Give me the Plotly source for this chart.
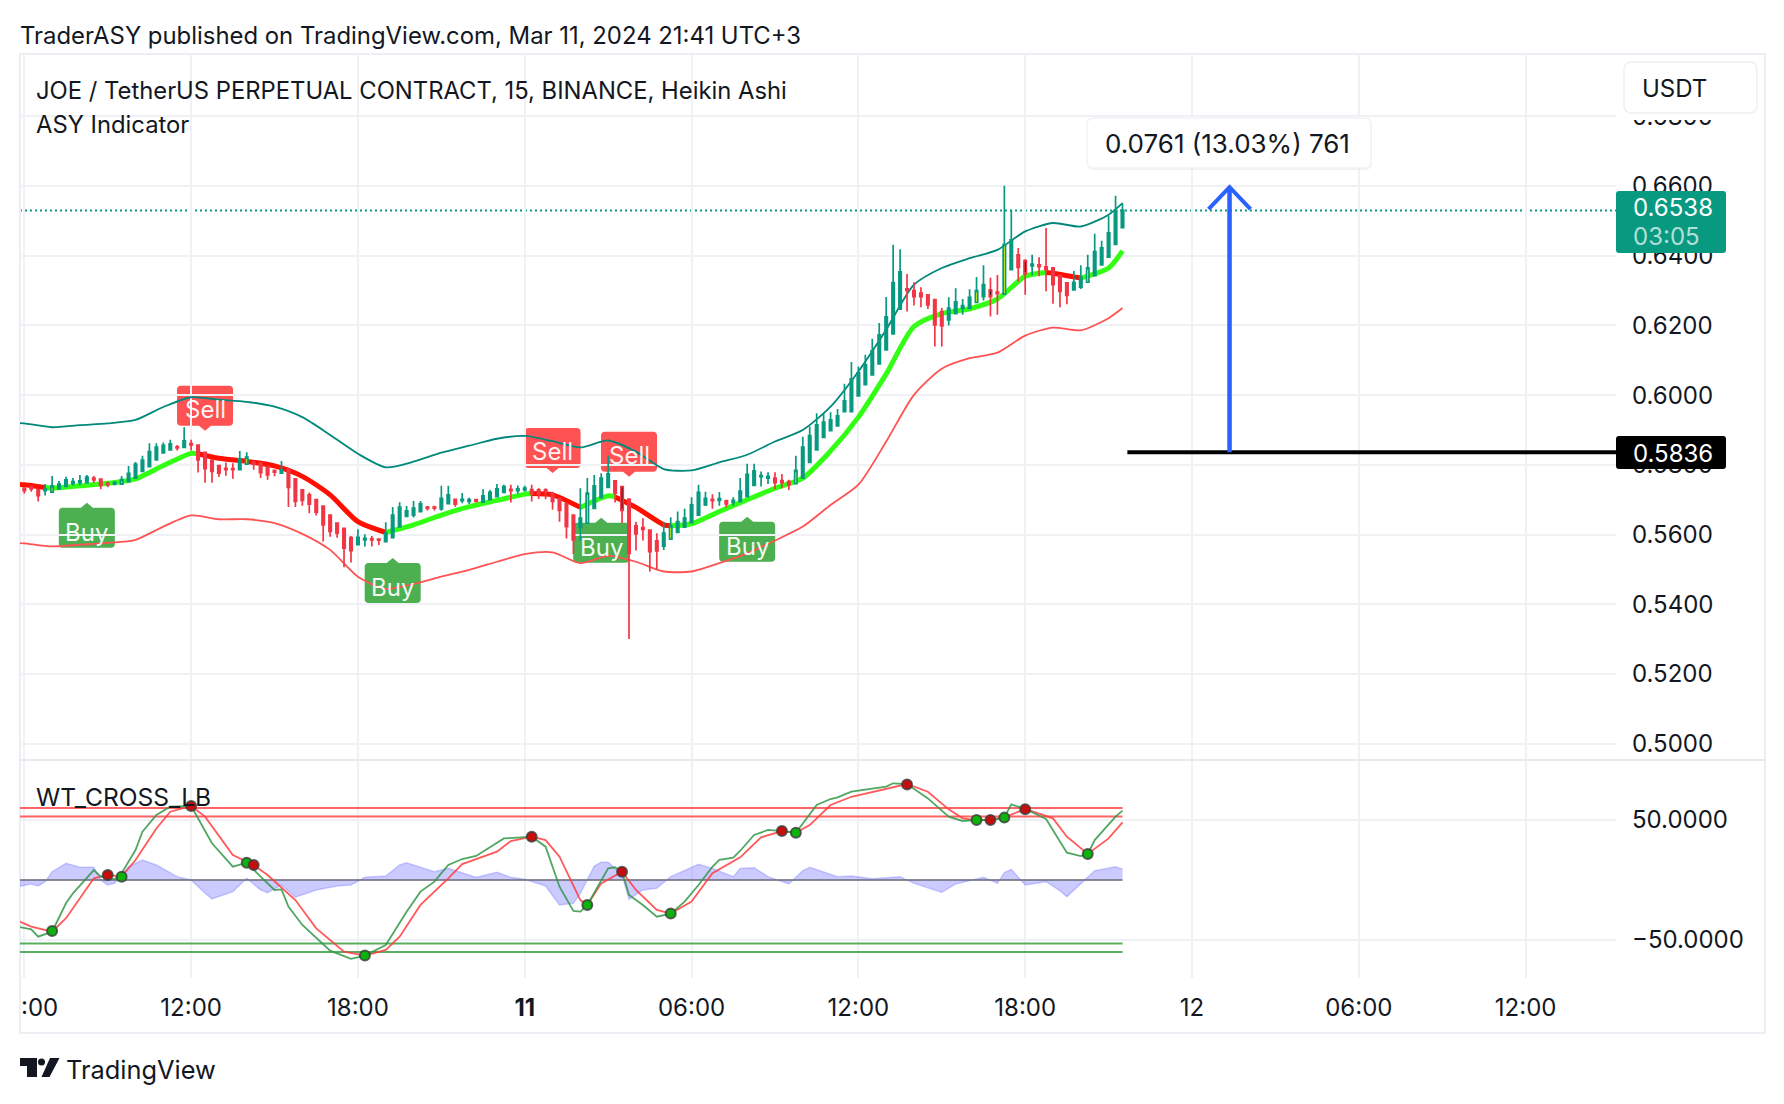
import pandas as pd
import plotly.graph_objects as go

W, H = 1784, 1104
FONT = "Inter"
INK = "#131722"
UP, DOWN = "#089981", "#f23645"

# Heikin Ashi candles, in units of 0.0001 USDT, 15 minute bars
START = "2024-03-10 06:00"
open_ = [5733,5736,5729,5726,5722,5731,5738,5747,5749,5749,5762,5759,5747,5745,5745,5752,5762,5781,5795,5814,
 5834,5843,5852,5850,5861,5857,5836,5814,5798,5790,5789,5786,5802,5808,5805,5795,5784,5776,5788,5760,
 5728,5714,5700,5682,5656,5633,5618,5591,5571,5585,5588,5587,5580,5591,5622,5652,5656,5666,5679,5679,
 5674,5689,5701,5697,5695,5700,5693,5700,5709,5721,5730,5726,5728,5729,5728,5728,5717,5704,5688,5656,
 5621,5633,5675,5706,5735,5754,5738,5702,5625,5620,5613,5582,5567,5587,5606,5621,5634,5656,5685,5701,
 5698,5697,5692,5695,5709,5741,5766,5762,5762,5755,5752,5746,5762,5807,5843,5879,5898,5912,5953,5953,
 5998,6030,6058,6090,6130,6176,6247,6305,6300,6293,6288,6274,6240,6216,6234,6250,6249,6266,6283,6302,
 6296,6290,6360,6403,6386,6371,6374,6368,6365,6344,6322,6302,6310,6324,6343,6374,6396,6433,6481]
high = [5733,5740,5729,5745,5768,5754,5766,5762,5771,5771,5768,5759,5752,5754,5768,5797,5808,5826,5862,5862,
 5864,5872,5857,5908,5872,5857,5836,5814,5798,5807,5805,5840,5836,5810,5805,5795,5784,5811,5788,5760,
 5728,5721,5700,5682,5656,5633,5618,5596,5615,5601,5596,5587,5635,5679,5693,5682,5696,5696,5682,5683,
 5740,5740,5701,5719,5706,5701,5730,5728,5745,5743,5743,5741,5740,5743,5733,5733,5723,5704,5688,5656,
 5733,5762,5771,5776,5826,5754,5738,5702,5637,5647,5613,5604,5637,5650,5666,5674,5707,5743,5723,5716,
 5722,5700,5707,5762,5803,5803,5781,5779,5779,5774,5757,5826,5881,5910,5948,5946,5951,5960,6033,6095,
 6082,6116,6162,6207,6282,6432,6419,6348,6324,6310,6288,6274,6250,6281,6307,6276,6304,6339,6373,6337,
 6345,6601,6532,6422,6390,6403,6396,6480,6365,6344,6322,6356,6373,6403,6463,6443,6515,6572,6551]
low = [5717,5723,5695,5712,5721,5730,5738,5741,5741,5748,5749,5730,5736,5741,5745,5752,5762,5781,5795,5814,
 5834,5843,5841,5848,5841,5778,5749,5749,5765,5769,5760,5786,5800,5786,5762,5757,5767,5774,5679,5679,
 5683,5661,5655,5580,5594,5591,5506,5520,5570,5566,5566,5570,5577,5591,5622,5652,5649,5666,5669,5669,
 5668,5689,5680,5690,5688,5692,5693,5700,5709,5721,5692,5717,5723,5695,5702,5701,5671,5637,5589,5544,
 5583,5633,5675,5706,5735,5692,5633,5300,5554,5583,5494,5500,5556,5587,5606,5621,5634,5656,5682,5674,
 5683,5678,5682,5692,5709,5741,5738,5745,5730,5733,5728,5746,5762,5807,5843,5879,5898,5912,5953,5953,
 5998,6030,6058,6090,6130,6176,6247,6240,6257,6252,6247,6140,6140,6200,6234,6231,6247,6266,6272,6226,
 6231,6290,6360,6326,6288,6344,6341,6298,6262,6252,6261,6302,6305,6324,6343,6374,6396,6433,6481]
close = [5726,5731,5712,5731,5740,5745,5757,5752,5754,5765,5757,5741,5743,5749,5758,5776,5802,5814,5838,5851,
 5856,5860,5849,5869,5857,5814,5789,5781,5776,5786,5786,5817,5822,5802,5778,5771,5779,5786,5735,5695,
 5698,5687,5664,5628,5609,5604,5561,5554,5592,5589,5585,5584,5604,5656,5679,5668,5676,5688,5675,5676,
 5704,5714,5687,5701,5700,5695,5711,5721,5731,5738,5726,5731,5733,5717,5717,5723,5695,5669,5623,5585,
 5647,5719,5740,5762,5774,5719,5669,5546,5602,5615,5551,5553,5604,5625,5637,5647,5685,5721,5704,5697,
 5703,5688,5698,5725,5773,5783,5769,5767,5749,5749,5743,5784,5851,5884,5915,5923,5929,5941,5984,6047,
 6064,6087,6127,6173,6225,6323,6354,6301,6283,6283,6259,6202,6199,6250,6268,6257,6281,6300,6317,6283,
 6291,6432,6446,6367,6348,6376,6369,6360,6317,6298,6286,6324,6338,6365,6412,6423,6466,6530,6530]
yellow_bars = [4,14,32,81,93,111,137,141,153]
black_bars = [12,33,86,109,139,144]

# Envelope around the moving average, read at bar numbers
band_bars = [-1,0,4,8,12,16,20,24,28,32,36,40,44,48,52,56,60,64,68,72,76,80,84,88,92,96,100,104,108,112,116,120,124,128,132,136,140,144,148,152,156,158]
upper = [5920,5919,5908,5914,5919,5929,5966,5994,5987,5981,5967,5937,5886,5832,5793,5809,5835,5855,5875,5883,5868,5850,5870,5838,5788,5784,5807,5829,5867,5900,5967,6068,6188,6317,6365,6393,6417,6470,6494,6484,6518,6551]
lower = [5576,5575,5566,5571,5576,5585,5623,5655,5644,5644,5633,5602,5556,5479,5444,5458,5479,5499,5522,5544,5549,5518,5539,5522,5494,5494,5518,5546,5583,5623,5685,5743,5867,6001,6076,6106,6122,6171,6194,6186,6221,6250]
ma_bars = [-1,0,3,4,8,12,16,20,24,25,28,32,36,40,44,48,52,56,60,64,68,72,73,76,80,84,85,88,92,93,96,100,104,108,112,116,120,124,128,132,136,140,144,147,148,152,156,158]
ma = [5744,5743,5735,5733,5740,5747,5760,5798,5833,5832,5819,5810,5797,5767,5714,5637,5606,5628,5656,5680,5698,5716,5718,5714,5678,5711,5708,5678,5628,5625,5631,5666,5700,5733,5762,5840,5937,6061,6197,6234,6248,6276,6341,6352,6350,6336,6365,6414]
ma_red_runs = [(-1,3),(25,52),(73,80),(85,93),(147,152)]
ma_green_runs = [(3,25),(52,73),(80,85),(93,147),(152,158)]

# Wave trend oscillator
wt1_bars = [-1,1,2,4,6,7,10,11,13,14,16,17,19,21,24,25,27,30,32,34,36,37,38,40,42,44,47,49,52,55,57,59,61,63,65,69,71,73,75,77,79,80,81,84,85,86,87,89,91,93,95,97,99,100,102,103,105,107,109,111,114,116,117,119,124,125,127,130,133,135,137,139,141,142,144,147,150,152,153,154,157,158]
wt1 = [-38.9,-41.1,-47.2,-43.1,-19.4,-11.1,8.3,2.8,0.6,5.6,25,40.3,54.2,61.1,61.7,51.4,30.6,11.1,14.4,2.8,-8.3,-7.8,-22.2,-37.5,-48.6,-58.9,-65.8,-63,-54.2,-26.4,-9.7,-1.4,12.5,17.5,20,34.7,35.3,36.1,27.8,-5.6,-25.8,-26.4,-20.8,9.7,10.6,6.9,-12.5,-20.8,-30.6,-28,-18,-4.2,11,16.7,18.6,24.4,37.5,41.7,40.8,39.4,62.5,67.5,68.9,73.6,77.8,80.6,80,68,52.8,49.2,50,50,52.2,63,59.2,50.8,22.8,20,21.7,33.3,52.8,57.8]
wt2_bars = [-1,1,4,6,10,12,14,16,19,21,24,26,30,33,35,39,42,46,49,52,54,57,61,63,68,70,73,75,77,80,81,83,86,88,91,93,96,99,103,106,109,111,113,116,119,124,127,130,133,135,137,139,141,144,148,150,153,156,158]
wt2 = [-33.9,-38.9,-43.1,-31.9,1.4,4.2,2.8,16.7,43,56.9,61.7,52.8,20.8,12.5,4.2,-16.7,-40.3,-59.7,-63,-58.3,-47.2,-20.8,1.4,13.3,23.6,32.5,36.1,33.3,19.4,-16.7,-20.8,-2.8,6.9,-8.3,-25,-28,-18,5.6,18.9,35.6,40.8,39.4,45.8,62.5,69.4,76.4,80,73.6,58.9,51.4,50,50,52.2,59.2,51.4,36.1,21.7,34.7,48]
hist_bars = [-1,1,2,3,4,6,8,10,11,12,13,15,17,19,22,24,26,27,30,32,34,35,37,39,42,45,47,49,52,54,55,59,61,65,68,70,72,75,77,79,80,82,83,84,86,87,89,91,93,97,99,102,103,105,107,110,112,113,117,119,122,126,128,132,134,138,140,141,142,144,147,149,150,154,157,158]
hist = [-5.6,-3.3,-5,-1.4,6.9,13.9,10.6,10.6,0,-4.2,-2.8,11.1,16.7,12.5,2.8,0,-11.1,-15.8,-9.7,1.4,-8.3,-10.6,-4.2,-14.4,-8.3,-5,-4.2,2.2,3.3,12.5,14.4,6.9,9.7,2.2,6.4,2.2,0.6,-5,-20.8,-19.4,-11.1,11.7,14.7,14.7,4.2,-16.1,-8.3,-6.9,2.8,13.1,9.7,2.8,9.7,10.3,2.8,-3.3,7.8,10.6,2.8,3.3,1.1,2.8,-2.8,-10.3,-3.3,2.2,-2.8,6.1,8.9,-4.2,-1.4,-8.9,-13.9,7.8,11.1,8.9]
green_dot_bars = [4,14,32,49,81,93,111,137,141,153]
green_dots = [-42.5,2.8,14.4,-63,-20.8,-28,39.4,50,52,21.7]
red_dot_bars = [12,24,33,73,86,109,127,139,144]
red_dots = [4.2,61.7,12.5,36.1,6.9,40.8,79.7,50,59]
wt_levels_red = [60,53]
wt_levels_green = [-53,-60]

# Buy and Sell flags: bar, price of the tip
sell_bars = [26,76,87]
sell_tips = [0.5898,0.5777,0.5766]
buy_bars = [9,53,83,104]
buy_tips = [0.5691,0.5533,0.5648,0.5651]

price_ticks = [0.50,0.52,0.54,0.56,0.58,0.60,0.62,0.64,0.66,0.68]
wt_ticks = [-50,50]
time_ticks = ["",  "12:00","18:00","<b>11</b>","06:00","12:00","18:00","12","06:00","12:00"]
entry_price = 0.5836
target_price = 0.6597
measure_bar = 173.4
line_start_bar = 158.7


def t(bar):
    return pd.Timestamp(START) + pd.Timedelta(minutes=15 * bar)


def ts(bar):
    return t(bar).strftime("%Y-%m-%d %H:%M:%S")


def px(x):
    return x / W


def py(y):
    return 1 - y / H


def rounded(x0, y0, x1, y1, r):
    """Rounded rectangle path in paper coordinates, from page pixels."""
    pts = [("M", x0 + r, y0), ("L", x1 - r, y0), ("Q", x1, y0, x1, y0 + r), ("L", x1, y1 - r),
           ("Q", x1, y1, x1 - r, y1), ("L", x0 + r, y1), ("Q", x0, y1, x0, y1 - r), ("L", x0, y0 + r),
           ("Q", x0, y0, x0 + r, y0)]
    out = []
    for p in pts:
        coords = p[1:]
        s = " ".join(f"{px(coords[i]):.5f},{py(coords[i+1]):.5f}" for i in range(0, len(coords), 2))
        out.append(f"{p[0]} {s}")
    return " ".join(out) + " Z"


def poly(points):
    return "M " + " L ".join(f"{px(a):.5f},{py(b):.5f}" for a, b in points) + " Z"


fig = go.Figure()
price = lambda seq: [v / 1e4 for v in seq]
all_bars = list(range(len(open_)))
special = set(yellow_bars) | set(black_bars)


def candles(bars, inc_line, inc_fill, dec_line, dec_fill):
    fig.add_trace(go.Candlestick(
        x=[t(b) for b in bars], open=[open_[b] / 1e4 for b in bars], high=[high[b] / 1e4 for b in bars],
        low=[low[b] / 1e4 for b in bars], close=[close[b] / 1e4 for b in bars],
        increasing=dict(line=dict(color=inc_line, width=1.7), fillcolor=inc_fill),
        decreasing=dict(line=dict(color=dec_line, width=1.7), fillcolor=dec_fill),
        xaxis="x", yaxis="y3", showlegend=False, hoverinfo="skip"))


# Envelope and moving average
fig.add_trace(go.Scatter(x=[t(b) for b in band_bars], y=price(upper), mode="lines", line=dict(color="#00897b", width=1.8, shape="spline", smoothing=0.7), showlegend=False, hoverinfo="skip"))
fig.add_trace(go.Scatter(x=[t(b) for b in band_bars], y=price(lower), mode="lines", line=dict(color="#ff5252", width=1.8, shape="spline", smoothing=0.7), showlegend=False, hoverinfo="skip"))
for runs, col in ((ma_red_runs, "#ff0f00"), (ma_green_runs, "#33ff14")):
    for a, b in runs:
        idx = [k for k, m in enumerate(ma_bars) if a <= m <= b]
        fig.add_trace(go.Scatter(x=[t(ma_bars[k]) for k in idx], y=[ma[k] / 1e4 for k in idx], mode="lines",
                                 line=dict(color=col, width=5, shape="spline", smoothing=0.7), showlegend=False, hoverinfo="skip"))

candles([b for b in all_bars if b not in special], UP, UP, DOWN, DOWN)
candles(yellow_bars, UP, "#ffff00", UP, "#ffff00")
candles(black_bars, DOWN, "#000000", DOWN, "#000000")

# Oscillator pane
wx = dict(xaxis="x2", yaxis="y2", showlegend=False, hoverinfo="skip")
fig.add_trace(go.Scatter(x=[t(b) for b in hist_bars], y=hist, mode="lines", fill="tozeroy", fillcolor="rgba(98,98,255,0.33)", line=dict(color="rgba(98,98,255,0.3)", width=1.5), **wx))
for v in wt_levels_red:
    fig.add_trace(go.Scatter(x=[t(-1), t(158)], y=[v, v], mode="lines", line=dict(color="rgba(255,60,60,0.8)", width=2), **wx))
for v in wt_levels_green:
    fig.add_trace(go.Scatter(x=[t(-1), t(158)], y=[v, v], mode="lines", line=dict(color="rgba(60,160,70,0.85)", width=2), **wx))
fig.add_trace(go.Scatter(x=[t(-1), t(158)], y=[0, 0], mode="lines", line=dict(color="rgba(110,110,125,0.8)", width=2), **wx))
fig.add_trace(go.Scatter(x=[t(b) for b in wt2_bars], y=wt2, mode="lines", line=dict(color="rgba(255,60,60,0.85)", width=1.8), **wx))
fig.add_trace(go.Scatter(x=[t(b) for b in wt1_bars], y=wt1, mode="lines", line=dict(color="rgba(50,150,70,0.85)", width=1.8), **wx))
fig.add_trace(go.Scatter(x=[t(b) for b in green_dot_bars], y=green_dots, mode="markers", marker=dict(size=10, color="#0cb30c", line=dict(color="rgba(60,60,60,0.8)", width=2)), **wx))
fig.add_trace(go.Scatter(x=[t(b) for b in red_dot_bars], y=red_dots, mode="markers", marker=dict(size=10, color="#c80d0d", line=dict(color="rgba(60,60,60,0.8)", width=2)), **wx))

shapes, notes = [], []


def note(x, y, text, size=24, color=INK, anchor="left", **kw):
    notes.append(dict(x=px(x), y=py(y), xref="paper", yref="paper", text=text, showarrow=False, xanchor=anchor, yanchor="middle",
                      font=dict(family=FONT, size=size, color=color), **kw))


# Flags, anchored on bar and price
def flag_path(up):
    s = 1 if up else -1
    top, bot = 5 * s, 45 * s
    r = 4
    return (f"M 0,0 L 6,{top} L 24,{top} Q 28,{top} 28,{top+s*r} L 28,{bot-s*r} Q 28,{bot} 24,{bot} "
            f"L -24,{bot} Q -28,{bot} -28,{bot-s*r} L -28,{top+s*r} Q -28,{top} -24,{top} L -6,{top} Z")


for bars_, tips, word, col, up in ((sell_bars, sell_tips, "Sell", "#ff5252", True), (buy_bars, buy_tips, "Buy", "#4caf50", False)):
    for b, tip in zip(bars_, tips):
        shapes.append(dict(type="path", xref="x", yref="y", xsizemode="pixel", ysizemode="pixel", xanchor=ts(b), yanchor=tip,
                           path=flag_path(up), fillcolor=col, line=dict(width=0), layer="below"))
        notes.append(dict(x=ts(b), y=tip, xref="x", yref="y", text=word, showarrow=False, yshift=21 if up else -30,
                          font=dict(family=FONT, size=24, color="rgba(255,255,255,0.95)")))

# Last price dotted line
shapes.append(dict(type="line", xref="paper", yref="y", x0=px(20), x1=px(1616), y0=close[-1] / 1e4, y1=close[-1] / 1e4,
                   line=dict(color=UP, width=2, dash="2px,3px"), layer="below"))
# Measure drawing
shapes.append(dict(type="line", xref="x", yref="y", x0=t(line_start_bar), x1=t(229), y0=entry_price, y1=entry_price, line=dict(color="#000000", width=4), layer="above"))
shapes.append(dict(type="line", xref="x", yref="y", x0=t(measure_bar), x1=t(measure_bar), y0=entry_price, y1=target_price, line=dict(color="#2962ff", width=4.5), layer="above"))
shapes.append(dict(type="path", xref="x", yref="y", xsizemode="pixel", ysizemode="pixel", xanchor=ts(measure_bar), yanchor=target_price,
                   path="M -21,-22 L 0,0 L 21,-22", line=dict(color="#2962ff", width=4), layer="above"))
# Frame and pane divider
shapes.append(dict(type="rect", xref="paper", yref="paper", x0=px(20), x1=px(1765), y0=py(1033), y1=py(54), line=dict(color="#eceef3", width=2), layer="below"))
shapes.append(dict(type="line", xref="paper", yref="paper", x0=px(20), x1=px(1765), y0=py(760), y1=py(760), line=dict(color="#e0e3eb", width=1.5), layer="above"))


def box(x0, y0, x1, y1, r, fill, line=None):
    shapes.append(dict(type="path", xref="paper", yref="paper", path=rounded(x0, y0, x1, y1, r), fillcolor=fill,
                       line=dict(color=line or fill, width=1.5 if line else 0), layer="above"))


# Measure label with a soft shadow
box(1087, 120, 1372, 170, 7, "rgba(0,0,0,0.05)")
box(1087, 118, 1371, 168, 7, "#ffffff", "#f2f3f6")
note(1103, 143.5, "0.0761 (13.03%) 761", size=26)
# Currency button, with the white strip that cuts the top price label
box(1620, 60, 1762, 120, 0, "#ffffff")
box(1624, 62, 1757, 113, 8, "#ffffff", "#eef0f4")
note(1640, 88, "USDT", size=24)
# Price tags
box(1616, 191, 1726, 253, 3, UP)
note(1631, 208, "0.6538", size=24, color="#ffffff")
note(1631, 236, "03:05", size=24, color="rgba(255,255,255,0.7)")
box(1616, 436, 1726, 469, 3, "#000000")
note(1631, 453, "0.5836", size=24, color="#ffffff")

# Titles
note(18, 35.5, "TraderASY published on TradingView.com, Mar 11, 2024 21:41 UTC+3", size=23.9)
note(34, 90, "JOE / TetherUS PERPETUAL CONTRACT, 15, BINANCE, Heikin Ashi", size=23.8)
note(34, 124, "ASY Indicator", size=23.8)
note(34, 797, "WT_CROSS_LB", size=24.6)
note(19, 1007.5, ":00", size=24)

# TradingView logo
shapes.append(dict(type="path", xref="paper", yref="paper", path=poly([(20, 1058), (37, 1058), (37, 1077), (27, 1077), (27, 1066), (20, 1066)]), fillcolor=INK, line=dict(width=0), layer="above"))
shapes.append(dict(type="path", xref="paper", yref="paper", path=poly([(50, 1058), (59.5, 1058), (49.5, 1077), (41.5, 1077)]), fillcolor=INK, line=dict(width=0), layer="above"))
shapes.append(dict(type="circle", xref="paper", yref="paper", x0=px(38), x1=px(45), y0=py(1065.5), y1=py(1058.5), fillcolor=INK, line=dict(width=0), layer="above"))
note(64, 1069.5, "TradingView", size=25.4)

grid = dict(showgrid=True, gridcolor="#f0f1f5", gridwidth=1.5, zeroline=False, showline=False)
tick_vals = [t(24 * k) for k in range(10)]
xrange = [t(-0.62), t(229)]
xdom = [px(20), px(1616)]
p_low, p_high = 0.4956, 0.6979

fig.update_layout(
    width=W, height=H, margin=dict(l=0, r=0, t=0, b=0), autosize=False,
    paper_bgcolor="#ffffff", plot_bgcolor="#ffffff", showlegend=False, boxgap=0.51, boxmode="overlay",
    font=dict(family=FONT, size=24, color=INK),
    shapes=shapes, annotations=notes,
    xaxis=dict(domain=xdom, range=xrange, type="date", tickmode="array", tickvals=tick_vals, showticklabels=False, anchor="y", rangeslider=dict(visible=False), ticks="", **grid),
    yaxis=dict(domain=[py(759), py(54)], range=[p_low, p_high], side="right", anchor="x", tickmode="array", tickvals=price_ticks, tickformat=".4f", ticks="", ticklabelstandoff=15,
               tickfont=dict(family=FONT, size=24, color=INK), **grid),
    yaxis3=dict(overlaying="y", range=[p_low, p_high], anchor="x", side="right", showticklabels=False, showgrid=False, zeroline=False, ticks=""),
    xaxis2=dict(domain=xdom, range=xrange, type="date", tickmode="array", tickvals=tick_vals, ticktext=time_ticks, anchor="y2", ticks="", ticklabelstandoff=13,
                tickfont=dict(family=FONT, size=24, color=INK), **grid),
    yaxis2=dict(domain=[py(978), py(761)], range=[-81.7, 99.2], side="right", anchor="x2", tickmode="array", tickvals=wt_ticks, tickformat=".4f", ticks="", ticklabelstandoff=15,
                tickfont=dict(family=FONT, size=24, color=INK), **grid),
)
fig.write_html("out.html", config={"displayModeBar": False}, post_script="document.body.style.margin='0';document.body.style.overflow='hidden';")
